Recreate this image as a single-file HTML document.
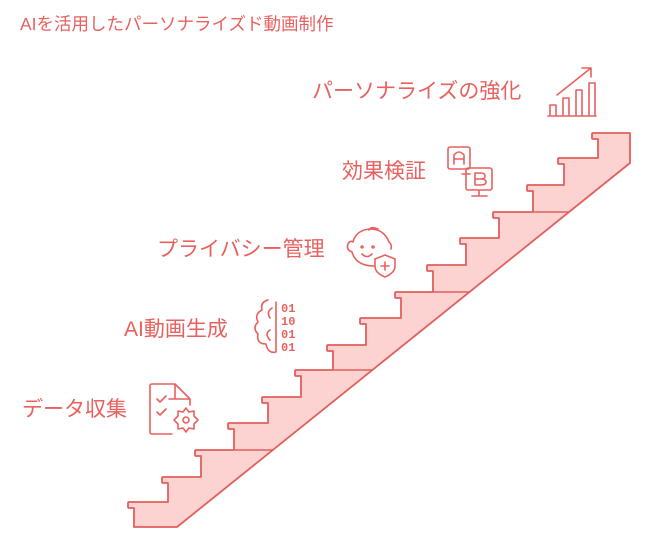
<!DOCTYPE html>
<html><head><meta charset="utf-8"><style>
body{margin:0;background:#fff;width:645px;height:543px;overflow:hidden;position:relative;font-family:"Liberation Sans","Noto Sans CJK JP",sans-serif;color:#e8615f}
.t{position:absolute;white-space:nowrap;font-size:21px;line-height:24px}
</style></head><body>
<div class="t" style="left:20px;top:12px;font-size:17.5px">AIを活用したパーソナライズド動画制作</div>
<div class="t" style="left:312px;top:80px">パーソナライズの強化</div>
<div class="t" style="left:342px;top:160px">効果検証</div>
<div class="t" style="left:157px;top:238px">プライバシー管理</div>
<div class="t" style="left:124px;top:318px">AI動画生成</div>
<div class="t" style="left:22px;top:398px">データ収集</div>
<svg id="s" width="645" height="543" style="position:absolute;left:0;top:0" fill="none" stroke="#e8615f" stroke-width="1.6" stroke-linecap="round" stroke-linejoin="round">
<g id="stairs"></g>
<path d="M548 116H596M550 116V105H556V116M563 116V98H569V116M576 116V90H582V116M589 116V83H595V116M557 95L591 68M582 68H591V77"/>
<rect x="448" y="147" width="22" height="22" rx="2"/><path d="M454 164V155Q459 149 464 155V164M454 159H464"/>
<path d="M470 174H462"/><rect x="466" y="168" width="26" height="22" rx="2"/><path d="M475 185V173H481Q485 173 485 176Q485 179 481 179H475M481 179Q486 179 486 182Q486 185 481 185H475M479 190V195M472 196H487"/>
<path d="M374 266Q356 266 352 252Q346 250 348 244Q350 240 353 242Q356 230 370 229Q384 229 389 242Q392 244 391 249M369 230Q371 226 378 229M362 246A1 1 0 1 0 362.1 246M373 246A1 1 0 1 0 373.1 246M362 254Q367 259 372 254"/>
<path d="M375 259L385 255L395 259V266Q395 273 385 277Q375 273 375 266Z"/><path d="M385 262V270M381 266H389"/>
<path d="M268 300Q260 302 262 310Q254 314 258 322Q252 328 258 334Q256 344 266 344Q268 354 276 352M272 308Q266 312 270 318M270 330Q264 334 270 340M276 302V352"/>
<text x="281" y="312" fill="#e8615f" stroke="none" font-family="Liberation Mono,monospace" font-size="12" font-weight="bold">01</text>
<text x="281" y="325" fill="#e8615f" stroke="none" font-family="Liberation Mono,monospace" font-size="12" font-weight="bold">10</text>
<text x="281" y="338" fill="#e8615f" stroke="none" font-family="Liberation Mono,monospace" font-size="12" font-weight="bold">01</text>
<text x="281" y="351" fill="#e8615f" stroke="none" font-family="Liberation Mono,monospace" font-size="12" font-weight="bold">01</text>
<path d="M172 434H152Q150 434 150 432V386Q150 384 152 384H175L190 399V405M175 384V399H190M157 399L160 402L166 396M169 399H174M157 412L160 415L166 409"/>
<circle cx="186" cy="420" r="3"/><path d="M186 408L189 412L194 411L194 416L198 420L194 424L194 429L189 428L186 432L183 428L178 429L178 424L174 420L178 416L178 411L183 412Z"/>
</svg>
<script>
var n=[128,162,195,228,262,295,327,360,395,427,460,493,527,558,592];
var t=[502,477,450,423,397,370,345,318,292,265,238,212,185,158,133];
var d="M177 527L134 527";
for(var i=0;i<15;i++){
 var lb=t[i]+6;
 if(i>0) d+="L"+(n[i]+6)+" "+lb;
 else d+="L134 "+lb;
 d+="L"+(n[i]+1)+" "+lb+"Q"+n[i]+" "+lb+" "+n[i]+" "+(lb-1)+"L"+n[i]+" "+(t[i]+1)+"Q"+n[i]+" "+t[i]+" "+(n[i]+1)+" "+t[i];
 if(i<14) d+="L"+(n[i+1]+6)+" "+t[i];
}
d+="L630 133L630 163Z";
var h='<path d="'+d+'" fill="#fdd3d2" stroke="#e05f5c" stroke-width="1.8"/>';
[2,5,8,11].forEach(function(i){var y=t[i];var x=177+(527-y)*453/364;h+='<path d="M'+(n[i+1]+6)+' '+y+'L'+x.toFixed(1)+' '+y+'" stroke="#e05f5c" stroke-width="1.6"/>';});
document.getElementById('stairs').innerHTML=h;
</script>
</body></html>
